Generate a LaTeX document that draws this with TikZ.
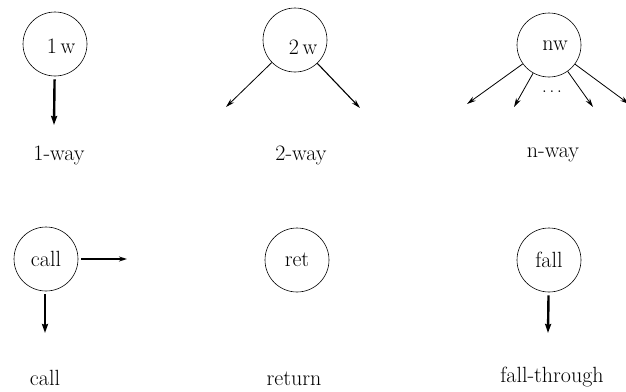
\documentclass[tikz,border=0pt]{standalone}
\usetikzlibrary{arrows.meta}
\begin{document}
\begin{tikzpicture}[x=1pt,y=-1pt,
  every node/.style={font=\fontsize{22}{26}\selectfont},
  blk/.style={draw,circle,minimum size=64pt,inner sep=0pt,line width=0.6pt},
  thin/.style={line width=0.8pt,-{Stealth[length=9pt,width=5pt]}},
  thick/.style={line width=2.4pt,-{Stealth[length=9pt,width=6pt,inset=1pt]},shorten <=3pt},
  mid/.style={line width=1.4pt,-{Stealth[length=8pt,width=5pt]},shorten <=3pt}]
\useasboundingbox (0,0) rectangle (626,391);
% 1-way
\node[blk] (w1) at (55,44) {};
\node (w1t) at (61,46) {1\,w};
\coordinate (w1e) at (54,125);
\draw[thick] (w1) -- (w1e);
\node (l1) at (59,155) {1-way};
% 2-way
\node[blk] (w2) at (295,40) {};
\node (w2t) at (303,47) {2\,w};
\coordinate (w2a) at (226,107);
\coordinate (w2b) at (360,108);
\draw[thin] (w2) -- (w2a);
\draw[thin,line width=1.1pt] (w2) -- (w2b);
\node (l2) at (301,155) {2-way};
% n-way
\node[blk] (wn) at (549,45) {};
\node (wnt) at (555,46) {nw};
\coordinate (wna) at (467,104);
\coordinate (wnb) at (514,107);
\coordinate (wnc) at (593,107);
\coordinate (wnd) at (629,104);
\draw[thin] (wn) -- (wna);
\draw[thin] (wn) -- (wnb);
\draw[thin] (wn) -- (wnc);
\draw[thin] (wn) -- (wnd);
\node[font=\fontsize{16}{19}\selectfont] (dots) at (552,92) {$\dots$};
\node (ln) at (553,155) {n-way};
% call
\node[blk] (call) at (46,259) {call};
\coordinate (callr) at (127,259);
\coordinate (calld) at (45,333);
\draw[mid] (call) -- (callr);
\draw[thick] (call.south -| calld) -- (calld);
\node (lc) at (45,378) {call};
% return
\node[blk] (ret) at (297,260) {ret};
\node (lr) at (294,379) {return};
% fall
\node[blk] (fall) at (549,260) {fall};
\coordinate (falld) at (548,333);
\draw[thick] (fall) -- (falld);
\node (lf) at (552,377) {fall-through};
\end{tikzpicture}
\end{document}
